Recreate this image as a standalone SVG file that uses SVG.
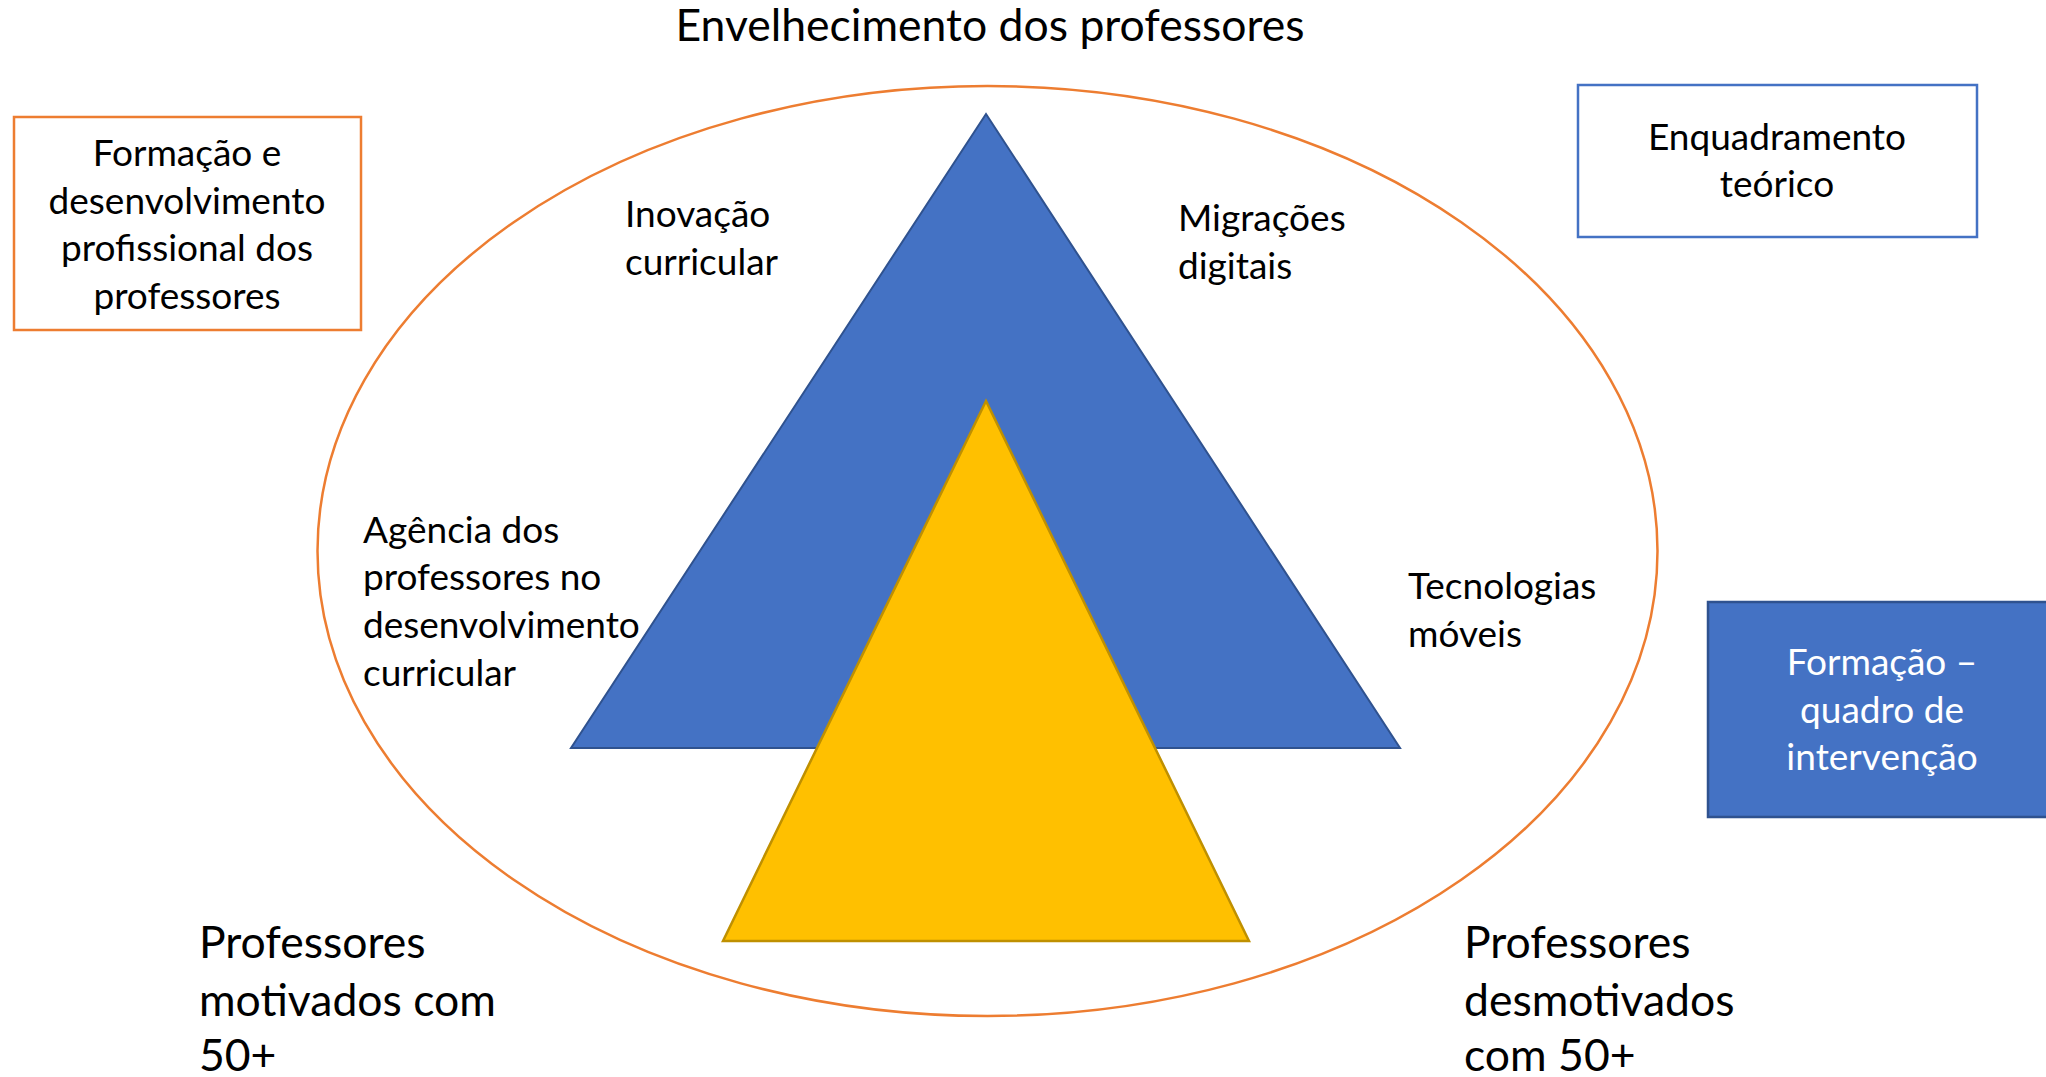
<svg xmlns="http://www.w3.org/2000/svg" width="2046" height="1077" viewBox="0 0 2046 1077">
<style>
  .t { font-family: Lato, "Open Sans", "Liberation Sans", sans-serif; fill: #000; }
  .s { font-size: 37px; }
  .l { font-size: 44.5px; }
  .c { text-anchor: middle; }
  .w { fill: #fff; }
</style>
<rect x="0" y="0" width="2046" height="1077" fill="#fff"/>
<g id="ellipse-context">
  <ellipse cx="987.5" cy="551" rx="670" ry="465" fill="none" stroke="#ED7D31" stroke-width="2.5"/>
</g>
<g id="triangle-blue">
  <polygon points="986,114 1400,748 571,748" fill="#4472C4" stroke="#2F528F" stroke-width="2"/>
</g>
<g id="triangle-yellow">
  <polygon points="986,401 1249,941 723,941" fill="#FFC000" stroke="#BF9000" stroke-width="2.5"/>
</g>
<g id="title">
  <text class="t l c" x="990" y="41">Envelhecimento dos professores</text>
</g>
<g id="box-formacao-desenvolvimento">
  <rect x="14" y="117" width="347" height="213" fill="#fff" stroke="#ED7D31" stroke-width="2.5"/>
  <text class="t s c" x="187" y="166">Formação e</text>
  <text class="t s c" x="187" y="214">desenvolvimento</text>
  <text class="t s c" x="187" y="261">profissional dos</text>
  <text class="t s c" x="187" y="309">professores</text>
</g>
<g id="box-enquadramento">
  <rect x="1578" y="85" width="399" height="152" fill="#fff" stroke="#4472C4" stroke-width="2.5"/>
  <text class="t s c" x="1777" y="150">Enquadramento</text>
  <text class="t s c" x="1777" y="197">teórico</text>
</g>
<g id="box-formacao-intervencao">
  <rect x="1708" y="602" width="360" height="215" fill="#4472C4" stroke="#2F528F" stroke-width="2.5"/>
  <text class="t s c w" x="1882" y="675">Formação –</text>
  <text class="t s c w" x="1882" y="723">quadro de</text>
  <text class="t s c w" x="1882" y="770">intervenção</text>
</g>
<g id="label-inovacao">
  <text class="t s" x="625" y="227">Inovação</text>
  <text class="t s" x="625" y="275">curricular</text>
</g>
<g id="label-migracoes">
  <text class="t s" x="1178" y="231">Migrações</text>
  <text class="t s" x="1178" y="279">digitais</text>
</g>
<g id="label-agencia">
  <text class="t s" x="363" y="543">Agência dos</text>
  <text class="t s" x="363" y="590">professores no</text>
  <text class="t s" x="363" y="638">desenvolvimento</text>
  <text class="t s" x="363" y="686">curricular</text>
</g>
<g id="label-tecnologias">
  <text class="t s" x="1408" y="599">Tecnologias</text>
  <text class="t s" x="1408" y="647">móveis</text>
</g>
<g id="label-motivados">
  <text class="t l" x="199" y="958">Professores</text>
  <text class="t l" x="199" y="1016">motivados com</text>
  <text class="t l" x="199" y="1071">50+</text>
</g>
<g id="label-desmotivados">
  <text class="t l" x="1464" y="958">Professores</text>
  <text class="t l" x="1464" y="1016">desmotivados</text>
  <text class="t l" x="1464" y="1071">com 50+</text>
</g>
<g id="connectors"></g>
</svg>
